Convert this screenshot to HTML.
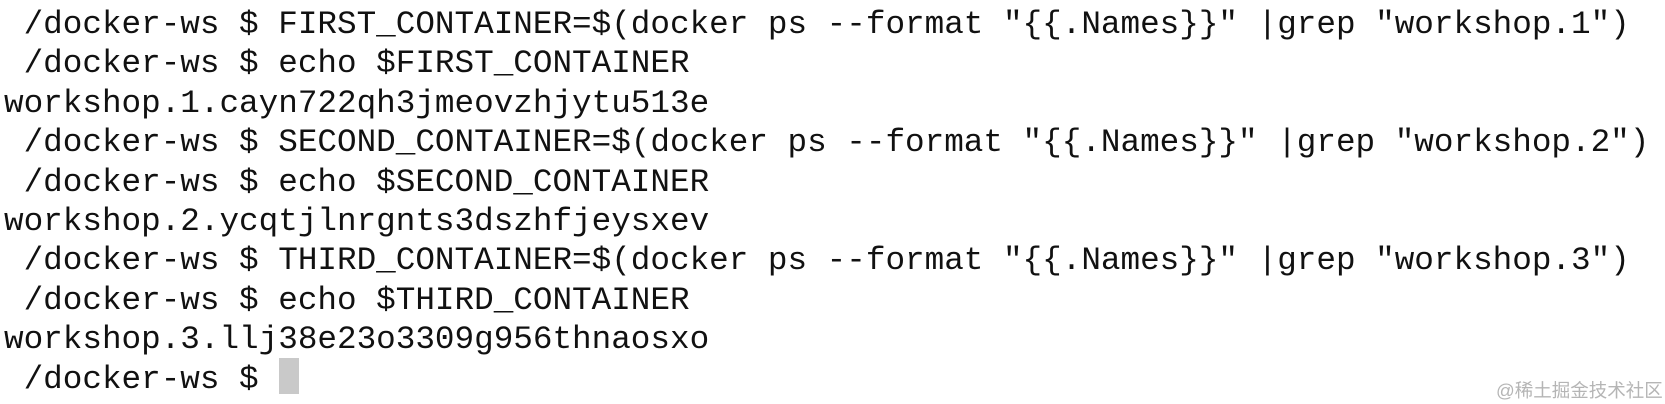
<!DOCTYPE html>
<html><head><meta charset="utf-8"><style>
html,body{margin:0;padding:0;background:#fff;width:1665px;height:404px;overflow:hidden;position:relative}
.t{position:absolute;left:4px;top:5px;font-family:"Liberation Mono",monospace;font-size:32.65px;line-height:39.4px;color:#111;white-space:pre}
.cur{position:absolute;left:279px;top:358px;width:20px;height:36px;background:#c9c9c9}
.wm{position:absolute;left:1496px;top:377px;font-family:"Liberation Sans","Noto Sans CJK SC",sans-serif;font-size:18.5px;color:#b5b5b5;white-space:nowrap}
</style></head><body>
<div class="t"> /docker-ws $ FIRST_CONTAINER=$(docker ps --format "{{.Names}}" |grep "workshop.1")
 /docker-ws $ echo $FIRST_CONTAINER
workshop.1.cayn722qh3jmeovzhjytu513e
 /docker-ws $ SECOND_CONTAINER=$(docker ps --format "{{.Names}}" |grep "workshop.2")
 /docker-ws $ echo $SECOND_CONTAINER
workshop.2.ycqtjlnrgnts3dszhfjeysxev
 /docker-ws $ THIRD_CONTAINER=$(docker ps --format "{{.Names}}" |grep "workshop.3")
 /docker-ws $ echo $THIRD_CONTAINER
workshop.3.llj38e23o3309g956thnaosxo
 /docker-ws $ </div>
<div class="cur"></div>
<div class="wm">@稀土掘金技术社区</div>
</body></html>
